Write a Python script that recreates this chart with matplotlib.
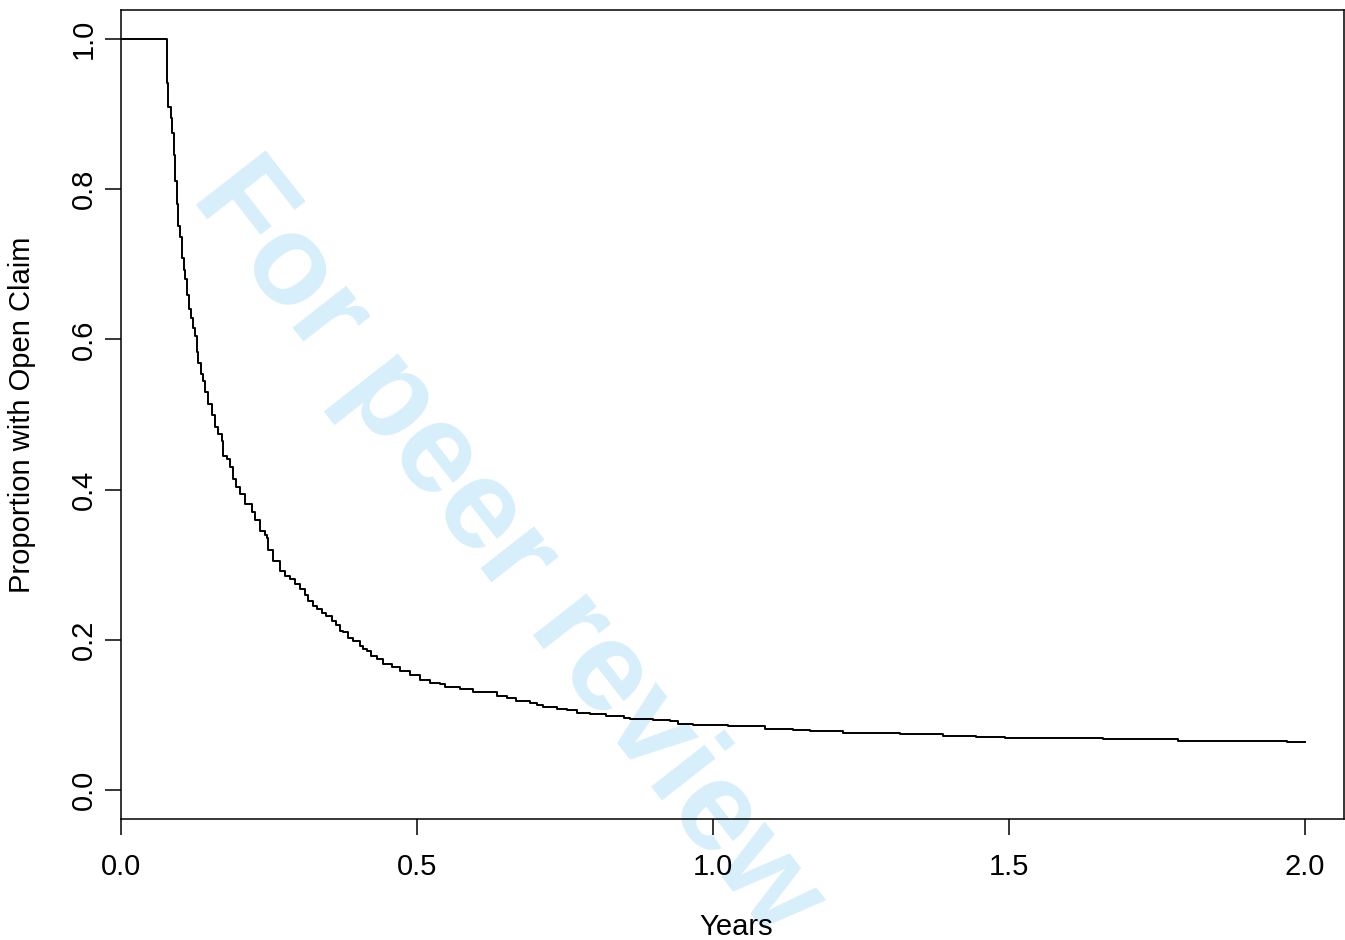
import numpy as np
import matplotlib.pyplot as plt

# --- data (Kaplan-Meier style step curve) ---
years = [0.0, 0.0772, 0.0800, 0.0840, 0.0867, 0.0890, 0.0917, 0.0941, 0.0968,
         0.0997, 0.1030, 0.1064, 0.1086, 0.1120, 0.1154, 0.1188, 0.1211, 0.1250,
         0.1278, 0.1306, 0.1346, 0.1380, 0.1419, 0.1475, 0.1532, 0.159, 0.1644,
         0.170, 0.173, 0.1785, 0.184, 0.1897, 0.195, 0.201, 0.209, 0.221, 0.2264,
         0.235, 0.2432, 0.246, 0.249, 0.2573, 0.269, 0.277, 0.285, 0.294, 0.302,
         0.311, 0.316, 0.325, 0.331, 0.339, 0.347, 0.356, 0.364, 0.370, 0.3755,
         0.384, 0.3924, 0.404, 0.409, 0.415, 0.423, 0.432, 0.443, 0.457, 0.471,
         0.488, 0.505, 0.522, 0.539, 0.547, 0.573, 0.595, 0.635, 0.652, 0.668,
         0.691, 0.702, 0.713, 0.736, 0.753, 0.770, 0.792, 0.820, 0.849, 0.860,
         0.871, 0.899, 0.927, 0.941, 0.967, 1.026, 1.088, 1.136, 1.164, 1.220,
         1.316, 1.389, 1.445, 1.493, 1.659, 1.786, 1.969, 2.0]
prop_open = [1.0, 0.941, 0.910, 0.895, 0.875, 0.845, 0.811, 0.781, 0.751,
             0.736, 0.708, 0.693, 0.681, 0.659, 0.641, 0.628, 0.615, 0.605,
             0.583, 0.568, 0.554, 0.545, 0.530, 0.514, 0.499, 0.483, 0.474,
             0.465, 0.445, 0.441, 0.430, 0.414, 0.403, 0.394, 0.381, 0.370, 0.359,
             0.345, 0.339, 0.336, 0.319, 0.305, 0.292, 0.285, 0.281, 0.274, 0.267,
             0.259, 0.252, 0.245, 0.241, 0.236, 0.232, 0.225, 0.219, 0.212, 0.210,
             0.203, 0.199, 0.192, 0.188, 0.185, 0.179, 0.174, 0.168, 0.164, 0.159,
             0.153, 0.146, 0.143, 0.141, 0.137, 0.134, 0.131, 0.125, 0.122, 0.119,
             0.116, 0.113, 0.110, 0.108, 0.106, 0.103, 0.101, 0.099, 0.096, 0.095,
             0.094, 0.093, 0.092, 0.088, 0.087, 0.085, 0.081, 0.080, 0.078, 0.076,
             0.075, 0.072, 0.070, 0.069, 0.068, 0.065, 0.064, 0.064]
x_ticks = [0.0, 0.5, 1.0, 1.5, 2.0]
y_ticks = [0.0, 0.2, 0.4, 0.6, 0.8, 1.0]

plt.rcParams['font.family'] = ['Liberation Sans', 'DejaVu Sans']

fig = plt.figure(figsize=(13.45, 9.4), dpi=100)
ax = fig.add_axes([121 / 1345, 121 / 940, 1223 / 1345, 809 / 940])
ax.patch.set_alpha(0)

ax.step(years, prop_open, where='post', color='black', lw=1.4)

ax.set_xlim(0, 2.066)
ax.set_ylim(-0.0387, 1.0387)
ax.set_xticks(x_ticks)
ax.set_xticklabels([f'{t:.1f}' for t in x_ticks])
ax.set_yticks(y_ticks)
ax.set_yticklabels([f'{t:.1f}' for t in y_ticks], rotation=90, va='center')
ax.tick_params(direction='out', length=11.5, width=1.1, labelsize=21, color='black')
ax.tick_params(axis='x', pad=13)
ax.tick_params(axis='y', pad=5)
for s in ax.spines.values():
    s.set_linewidth(1.1)

fig.text(22 / 1345, 1 - 415 / 940, 'Proportion with Open Claim', rotation=90,
         ha='center', va='center', fontsize=21)
fig.text(736 / 1345, 1 - 927 / 940, 'Years', ha='center', va='center', fontsize=21)

# watermark behind everything
fig.text(190 / 1345, 1 - 197 / 940, 'For peer review', rotation=-52,
         rotation_mode='anchor', ha='left', va='baseline', fontsize=92,
         fontweight='bold', color='#d6effb', zorder=-1)

fig.savefig('out.png', dpi=100)
